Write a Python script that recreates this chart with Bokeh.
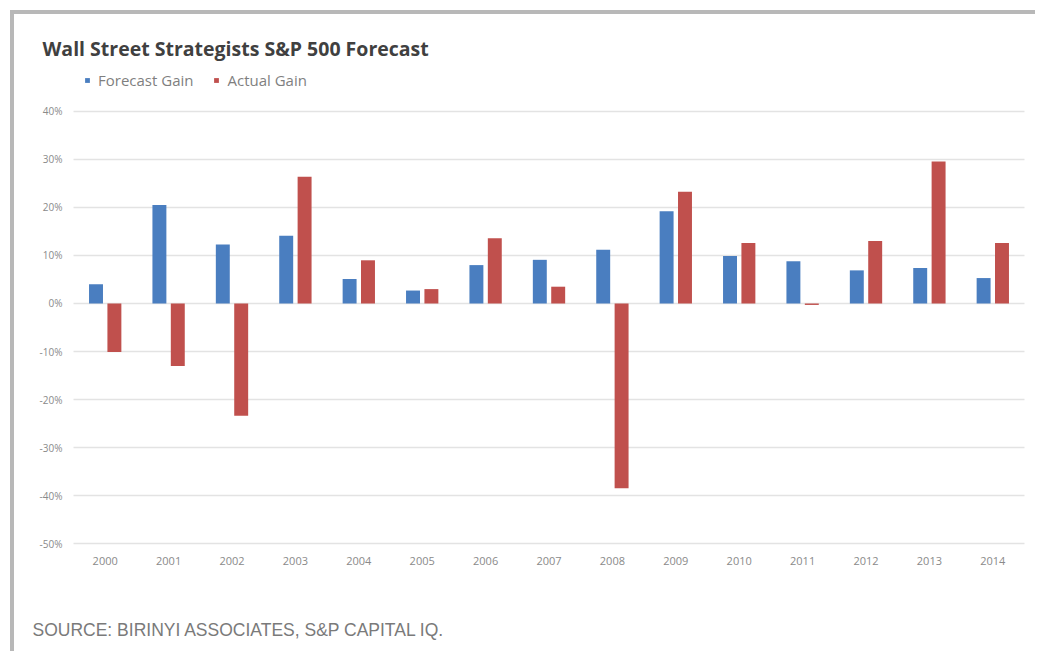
from bokeh.plotting import figure
from bokeh.models import Legend, LegendItem, Range1d, FixedTicker, Label
from bokeh.embed import file_html
from bokeh.resources import INLINE

years = ["2000", "2001", "2002", "2003", "2004", "2005", "2006", "2007",
         "2008", "2009", "2010", "2011", "2012", "2013", "2014"]
forecast = [4.0, 20.5, 12.3, 14.1, 5.1, 2.7, 8.0, 9.1, 11.2, 19.2, 9.9, 8.8, 6.9, 7.4, 5.3]
actual = [-10.1, -13.0, -23.4, 26.4, 9.0, 3.0, 13.6, 3.5, -38.5, 23.3, 12.6, -0.3, 13.0, 29.6, 12.6]
y_ticks = [-50, -40, -30, -20, -10, 0, 10, 20, 30, 40]

xs = list(range(len(years)))
BLUE = "#4a7ec0"
RED = "#c0504d"
X0, X1 = -0.5, len(years) - 0.5   # plot area extent in category units
Y0 = y_ticks[0]

# The frame spans the whole canvas so that title, legend and source are not clipped;
# the axes are pinned at the plot area's left edge and at the -50% line.
p = figure(width=1025, height=641, output_backend="svg", toolbar_location=None,
           x_range=Range1d(-1.4306, 14.7366), y_range=Range1d(-73.333, 60.208),
           min_border_left=0, min_border_right=0, min_border_top=0, min_border_bottom=0)
p.outline_line_color = None
p.background_fill_color = "white"
p.border_fill_color = "white"
p.xgrid.grid_line_color = None
p.ygrid.grid_line_color = None

# horizontal gridlines across the plot area only
p.segment(x0=[X0] * len(y_ticks), x1=[X1] * len(y_ticks), y0=y_ticks, y1=y_ticks,
          line_color="#e3e3e3", line_width=1.5)

rb = p.vbar(x=[x - 0.145 for x in xs], top=forecast, bottom=0, width=0.22,
            fill_color=BLUE, line_color=None)
rr = p.vbar(x=[x + 0.145 for x in xs], top=actual, bottom=0, width=0.22,
            fill_color=RED, line_color=None)

p.xaxis.fixed_location = Y0
p.yaxis.fixed_location = X0
p.xaxis.ticker = FixedTicker(ticks=xs)
p.xaxis.major_label_overrides = {i: y for i, y in enumerate(years)}
p.yaxis.ticker = FixedTicker(ticks=y_ticks)
p.yaxis.major_label_overrides = {v: f"{v}%" for v in y_ticks}

for ax in (p.xaxis[0], p.yaxis[0]):
    ax.axis_line_color = None
    ax.major_tick_line_color = None
    ax.minor_tick_line_color = None
    ax.major_label_text_color = "#8a8a8a"
    ax.major_label_text_font = "Open Sans"
p.xaxis.major_label_text_font_size = "11px"
p.yaxis.major_label_text_font_size = "10px"
p.xaxis.major_label_standoff = 7
p.yaxis.major_label_standoff = 5

legend = Legend(items=[LegendItem(label="Forecast Gain", renderers=[rb]),
                       LegendItem(label="Actual Gain", renderers=[rr])],
                orientation="horizontal", location=(70, 565),
                glyph_width=6, glyph_height=6, label_standoff=8, spacing=20,
                padding=0, margin=0, border_line_color=None, background_fill_alpha=0,
                label_text_font="Open Sans", label_text_font_size="15px",
                label_text_color="#7f7f7f", label_height=16)
p.add_layout(legend, "center")

p.add_layout(Label(x=-0.989, y=53.1, text="Wall Street Strategists S&P 500 Forecast",
                   text_font="Open Sans", text_font_style="bold", text_font_size="19.5px",
                   text_color="#404040", text_baseline="middle", text_align="left"))

p.add_layout(Label(x=-1.1467, y=-67.92, text="SOURCE: BIRINYI ASSOCIATES, S&P CAPITAL IQ.",
                   text_font="Liberation Sans", text_font_size="17.5px",
                   text_color="#7a7a7a", text_baseline="middle", text_align="left"))

p.styles = {"margin-left": "10px", "margin-top": "10px",
            "border-top": "4px solid #b8b8b8", "border-left": "4px solid #b8b8b8"}

open("out.html", "w").write(file_html(p, INLINE))
